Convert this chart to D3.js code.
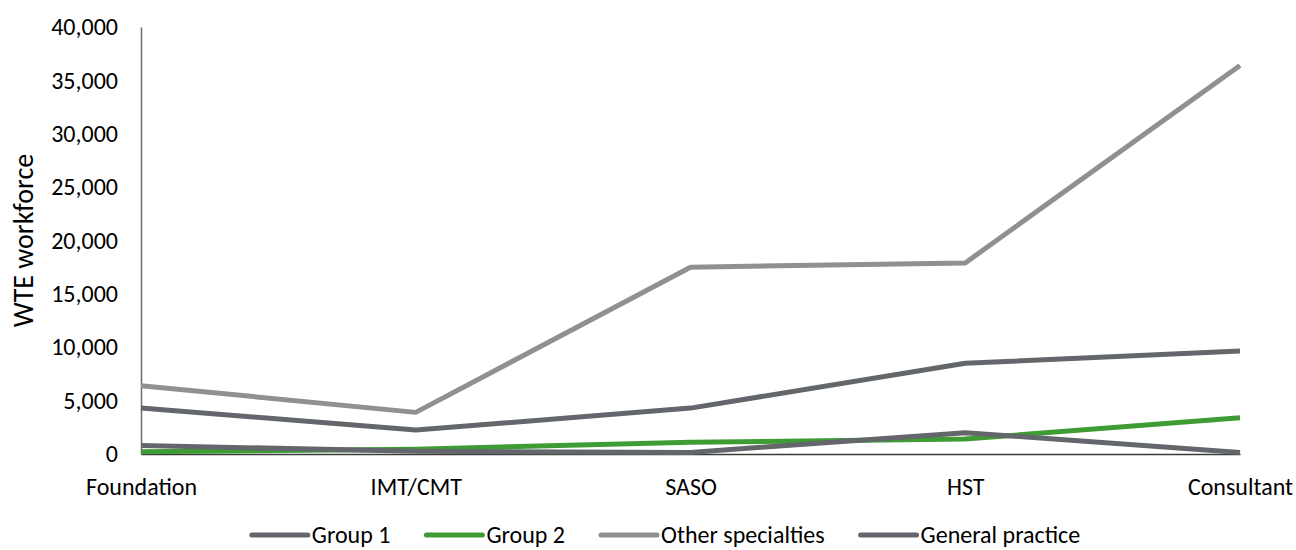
<!DOCTYPE html>
<html>
<head>
<meta charset="utf-8">
<script src="https://cdn.jsdelivr.net/npm/d3@7"></script>
<style>
  html, body { margin: 0; padding: 0; background: #fff; }
  svg { display: block; font-family: Carlito, Calibri, "Open Sans", sans-serif; }
</style>
</head>
<body>
<svg id="chart" width="1296" height="550"></svg>
<script>
// Workforce by training stage
const stages = ["Foundation", "IMT/CMT", "SASO", "HST", "Consultant"];
const group1 = [800, 250, 150, 2000, 150];
const group2 = [200, 450, 1100, 1400, 3400];
const otherSpecialties = [6400, 3900, 17500, 17900, 36400];
const generalPractice = [4300, 2250, 4300, 8500, 9650];
const yTicks = [0, 5000, 10000, 15000, 20000, 25000, 30000, 35000, 40000];

const seriesNames = ["Group 1", "Group 2", "Other specialties", "General practice"];
const seriesColors = ["#63666a", "#3f9c35", "#8e9091", "#63666a"];
const seriesValues = [group1, group2, otherSpecialties, generalPractice];

const FONT = "Carlito, Calibri, 'Open Sans', sans-serif";
const svg = d3.select("#chart");
const plotLeft = 141, plotRight = 1240, plotTop = 27, plotBottom = 454;

const x = d3.scalePoint().domain(stages).range([plotLeft, plotRight]);
const y = d3.scaleLinear().domain([0, 40000]).range([plotBottom, plotTop]);

// y axis
const yAxis = svg.append("g")
  .attr("transform", `translate(${plotLeft},0)`)
  .call(d3.axisLeft(y).tickValues(yTicks).tickSize(0).tickPadding(23)
    .tickFormat(d3.format(",")));
yAxis.select(".domain").attr("stroke", "#6b6b6b").attr("stroke-width", 1.5);
yAxis.selectAll("text").attr("font-size", 24).attr("fill", "#000")
  .attr("font-family", FONT);

// x axis
const xAxis = svg.append("g")
  .attr("transform", `translate(0,${plotBottom})`)
  .call(d3.axisBottom(x).tickSize(0).tickPadding(24));
xAxis.select(".domain").attr("stroke", "#3a3a3a").attr("stroke-width", 1.5);
xAxis.selectAll("text").attr("font-size", 24).attr("fill", "#000")
  .attr("font-family", FONT);

// y axis title
svg.append("text")
  .attr("transform", `translate(33,${(plotTop + plotBottom) / 2}) rotate(-90)`)
  .attr("text-anchor", "middle")
  .attr("font-size", 28)
  .attr("font-family", FONT)
  .attr("fill", "#000")
  .text("WTE workforce");

// series lines (draw order keeps green under group 1 where they overlap)
const line = d3.line()
  .x((d, i) => x(stages[i]))
  .y(d => y(d));

const order = [2, 3, 1, 0];
order.forEach(k => {
  svg.append("path")
    .datum(seriesValues[k])
    .attr("d", line)
    .attr("fill", "none")
    .attr("stroke", seriesColors[k])
    .attr("stroke-width", 5)
    .attr("stroke-linejoin", "round");
});

// legend
const legend = svg.append("g");
const legendY = 535;
const swatchW = 56, textGap = 4, itemGap = 36;
const items = legend.selectAll("g.item").data(seriesNames).enter().append("g").attr("class", "item");
items.append("line")
  .attr("x1", 0).attr("x2", swatchW)
  .attr("y1", 0).attr("y2", 0)
  .attr("stroke", (d, i) => seriesColors[i])
  .attr("stroke-width", 5)
  .attr("stroke-linecap", "round");
items.append("text")
  .attr("x", swatchW + textGap)
  .attr("y", 0)
  .attr("dy", "0.33em")
  .attr("font-size", 24)
  .attr("font-family", FONT)
  .attr("fill", "#000")
  .text(d => d);
let widths = [];
items.each(function () { widths.push(this.getBBox().width); });
const total = d3.sum(widths) + itemGap * (widths.length - 1);
let cx = 666 - total / 2;
items.attr("transform", (d, i) => {
  const t = `translate(${cx},${legendY})`;
  cx += widths[i] + itemGap;
  return t;
});
</script>
</body>
</html>
